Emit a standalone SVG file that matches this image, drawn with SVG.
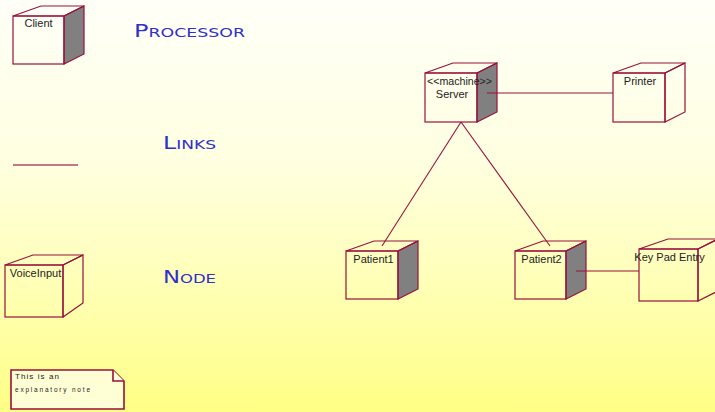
<svg xmlns="http://www.w3.org/2000/svg" width="715" height="412" viewBox="0 0 715 412">
<defs>
<linearGradient id="bg" x1="0" y1="0" x2="0" y2="1">
<stop offset="0" stop-color="#fffff8"/>
<stop offset="0.4" stop-color="#ffffe0"/>
<stop offset="0.7" stop-color="#ffffb5"/>
<stop offset="1" stop-color="#ffff85"/>
</linearGradient>
<style>
.edge{fill:none;stroke:#99103d;stroke-width:1.2;stroke-linejoin:miter}
.side{fill:#808080;stroke:#99103d;stroke-width:1.2}
.plain{fill:none;stroke:#99103d;stroke-width:1.2}
.lbl{font-family:"Liberation Sans",Arial,sans-serif;font-size:11px;fill:#222;text-anchor:middle}
.title{font-family:"DejaVu Sans","Liberation Sans",sans-serif;fill:#2f2fcc}
.link{stroke:#99103d;stroke-width:1.1;fill:none}
.note{fill:#ffffd5;stroke:#99103d;stroke-width:1.6}
.ntxt{font-family:"Liberation Sans",Arial,sans-serif;fill:#222}
</style>
</defs>
<rect x="0" y="0" width="715" height="412" fill="url(#bg)"/>

<!-- legend titles -->
<text class="title" x="134" y="37" textLength="111" lengthAdjust="spacingAndGlyphs"><tspan font-size="18">P</tspan><tspan font-size="13">ROCESSOR</tspan></text>
<text class="title" x="163" y="149" textLength="53" lengthAdjust="spacingAndGlyphs"><tspan font-size="18">L</tspan><tspan font-size="13">INKS</tspan></text>
<text class="title" x="163" y="283" textLength="53" lengthAdjust="spacingAndGlyphs"><tspan font-size="18">N</tspan><tspan font-size="13">ODE</tspan></text>
<line x1="13" y1="165" x2="78" y2="165" stroke="#b04868" stroke-width="1.3"/>

<!-- Client (processor) -->
<g id="client">
<polygon class="side" points="64,16 84,6 84,54 64,64"/>
<polygon class="plain" points="13,16 41,6 84,6 64,16"/>
<rect class="plain" x="13" y="16" width="51" height="48"/>
<text class="lbl" x="38.5" y="27">Client</text>
</g>

<!-- VoiceInput (node) -->
<g id="voiceinput">
<polygon class="plain" points="63,265 83,255 83,303 63,317"/>
<polygon class="plain" points="5,265 33,255 83,255 63,265"/>
<rect class="plain" x="5" y="265" width="58" height="52"/>
<text class="lbl" x="35.5" y="277">VoiceInput</text>
</g>

<!-- Note -->
<g id="note">
<polygon class="note" points="11,370 113,370 124,381 124,409 11,409"/>
<polyline class="note" points="113,370 113,381 124,381" fill="none"/>
<text class="ntxt" x="15" y="379" font-size="8" textLength="44" lengthAdjust="spacing">This is an</text>
<text class="ntxt" x="15" y="392" font-size="6.5" textLength="75" lengthAdjust="spacing">explanatory note</text>
</g>

<!-- Server -->
<g id="server">
<polygon class="side" points="477,73 497,63 497,112 477,122"/>
<polygon class="plain" points="425,73 453,63 497,63 477,73"/>
<rect class="plain" x="425" y="73" width="52" height="49"/>
<text class="lbl" x="459.5" y="85" textLength="65" lengthAdjust="spacingAndGlyphs">&lt;&lt;machine&gt;&gt;</text>
<text class="lbl" x="452" y="98">Server</text>
</g>

<!-- Printer -->
<g id="printer">
<polygon class="plain" points="665,73 685,63 685,112 665,122"/>
<polygon class="plain" points="613,73 641,63 685,63 665,73"/>
<rect class="plain" x="613" y="73" width="52" height="49"/>
<text class="lbl" x="640" y="85">Printer</text>
</g>

<!-- Patient1 -->
<g id="patient1">
<polygon class="side" points="398,251 418,241 418,289 398,299"/>
<polygon class="plain" points="346,251 374,241 418,241 398,251"/>
<rect class="plain" x="346" y="251" width="52" height="48"/>
<text class="lbl" x="373.5" y="263">Patient1</text>
</g>

<!-- Patient2 -->
<g id="patient2">
<polygon class="side" points="566,251 586,241 586,289 566,299"/>
<polygon class="plain" points="515,251 543,241 586,241 566,251"/>
<rect class="plain" x="515" y="251" width="51" height="48"/>
<text class="lbl" x="541.5" y="263">Patient2</text>
</g>

<!-- Key Pad Entry -->
<g id="keypad">
<polygon class="plain" points="698,249 718,239 718,291 698,301"/>
<polygon class="plain" points="639,249 668,239 718,239 698,249"/>
<rect class="plain" x="639" y="249" width="59" height="52"/>
<text class="lbl" x="669.5" y="261">Key Pad Entry</text>
</g>

<!-- connectors -->
<g id="connectors">
<line class="link" x1="487" y1="93" x2="613" y2="93"/>
<line class="link" x1="461" y1="122" x2="382" y2="246"/>
<line class="link" x1="461" y1="122" x2="550" y2="246"/>
<line class="link" x1="576" y1="271" x2="639" y2="271"/>
</g>
</svg>
